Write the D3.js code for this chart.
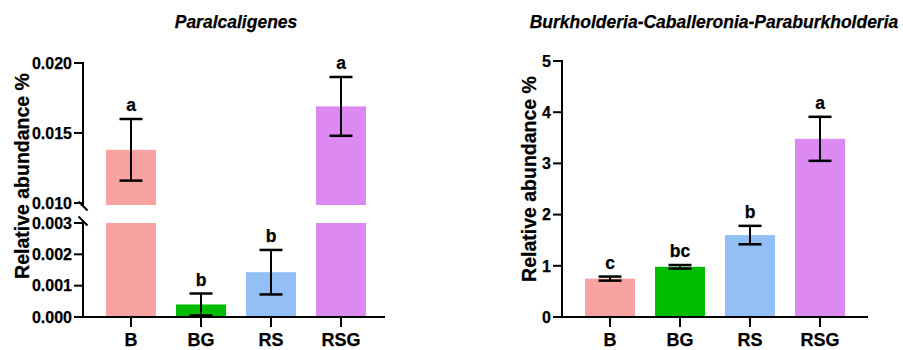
<!DOCTYPE html>
<html><head><meta charset="utf-8">
<script src="https://cdn.jsdelivr.net/npm/d3@7"></script>
<style>
html,body{margin:0;padding:0;background:#fff;}
text{font-family:"Liberation Sans",Arial,sans-serif;font-weight:bold;fill:#000;stroke:#000;stroke-width:0.25px;}
</style></head>
<body><svg id="c" width="903" height="350"></svg>
<script>
const categories = ["B", "BG", "RS", "RSG"];
const colors = ["#F8A2A2", "#00BD00", "#92C0F6", "#DC8AF2"];

const paraTitle = "Paralcaligenes";
const paraMean = [0.0138, 0.00040, 0.00143, 0.0169];
const paraErr = [0.0022, 0.00035, 0.00071, 0.0021];
const paraLetters = ["a", "b", "b", "a"];
const paraLowTicks = [0, 0.001, 0.002, 0.003];
const paraHighTicks = [0.010, 0.015, 0.020];

const burkTitle = "Burkholderia-Caballeronia-Paraburkholderia";
const burkMean = [0.75, 0.98, 1.60, 3.48];
const burkErr = [0.04, 0.035, 0.18, 0.43];
const burkLetters = ["c", "bc", "b", "a"];
const burkTicks = [0, 1, 2, 3, 4, 5];

const yLabel = "Relative abundance %";

const svg = d3.select("#c");
const SW = 2;

function xAxis(g, x, x0, x1, y0) {
  g.append("line").attr("x1", x0).attr("x2", x1).attr("y1", y0).attr("y2", y0)
    .attr("stroke", "#000").attr("stroke-width", SW);
  categories.forEach(c => {
    const cx = x(c) + x.bandwidth() / 2;
    g.append("line").attr("x1", cx).attr("x2", cx).attr("y1", y0).attr("y2", y0 + 10)
      .attr("stroke", "#000").attr("stroke-width", SW);
    g.append("text").attr("x", cx).attr("y", y0 + 28.5).attr("text-anchor", "middle")
      .attr("font-size", 18).text(c);
  });
}

function yTicks(g, scale, ticks, ax, fmt) {
  ticks.forEach(t => {
    g.append("line").attr("x1", ax - 9).attr("x2", ax).attr("y1", scale(t)).attr("y2", scale(t))
      .attr("stroke", "#000").attr("stroke-width", SW);
    g.append("text").attr("x", ax - 11).attr("y", scale(t)).attr("dy", "0.36em")
      .attr("text-anchor", "end").attr("font-size", 16).text(fmt(t));
  });
}

function errBar(g, cx, yTop, yBot) {
  const hw = 11.5;
  g.append("line").attr("x1", cx).attr("x2", cx).attr("y1", yTop).attr("y2", yBot)
    .attr("stroke", "#000").attr("stroke-width", SW);
  [yTop, yBot].forEach(yy => g.append("line").attr("x1", cx - hw).attr("x2", cx + hw)
    .attr("y1", yy).attr("y2", yy).attr("stroke", "#000").attr("stroke-width", SW + 0.5));
}

// ---------- Left chart (broken axis) ----------
{
  const g = svg.append("g");
  const ax = 83, base = 317;
  const x = d3.scaleBand().domain(categories).range([96, 376]).paddingInner(0.286).paddingOuter(0.143);
  const yLow = d3.scaleLinear().domain([0, 0.003]).range([base, 223]);
  const yHigh = d3.scaleLinear().domain([0.010, 0.020]).range([203, 63]);
  const brk = 0.003;
  const y = v => v <= brk ? yLow(v) : yHigh(v);

  categories.forEach((c, i) => {
    const v = paraMean[i];
    const bx = x(c), bw = x.bandwidth();
    if (v <= brk) {
      g.append("rect").attr("x", bx).attr("width", bw).attr("y", yLow(v)).attr("height", base - yLow(v)).attr("fill", colors[i]);
    } else {
      g.append("rect").attr("x", bx).attr("width", bw).attr("y", yLow(brk)).attr("height", base - yLow(brk)).attr("fill", colors[i]);
      const yb = yHigh(0.010) + 2;
      g.append("rect").attr("x", bx).attr("width", bw).attr("y", yHigh(v)).attr("height", yb - yHigh(v)).attr("fill", colors[i]);
    }
    const cx = bx + bw / 2;
    const top = v + paraErr[i], bot = Math.max(0, v - paraErr[i]);
    errBar(g, cx, y(top), y(bot));
    g.append("text").attr("x", cx).attr("y", y(top) - 8).attr("text-anchor", "middle")
      .attr("font-size", 17.5).text(paraLetters[i]);
  });

  g.append("line").attr("x1", ax).attr("x2", ax).attr("y1", base + 1).attr("y2", yLow(brk) - 2)
    .attr("stroke", "#000").attr("stroke-width", SW);
  g.append("line").attr("x1", ax).attr("x2", ax).attr("y1", yHigh(0.020) - 1).attr("y2", yHigh(0.010) + 3)
    .attr("stroke", "#000").attr("stroke-width", SW);
  [yHigh(0.010) + 3, yLow(brk) - 2].forEach(yy => {
    g.append("line").attr("x1", ax - 4.5).attr("x2", ax + 4.5).attr("y1", yy - 4.5).attr("y2", yy + 4.5)
      .attr("stroke", "#000").attr("stroke-width", SW);
  });
  yTicks(g, yLow, paraLowTicks, ax, d3.format(".3f"));
  yTicks(g, yHigh, paraHighTicks, ax, d3.format(".3f"));
  xAxis(g, x, ax - 1, 385, base);

  g.append("text").attr("x", 236).attr("y", 28).attr("text-anchor", "middle")
    .attr("font-size", 17.5).attr("font-style", "italic").text(paraTitle);
  g.append("text").attr("transform", "translate(29,176) rotate(-90)")
    .attr("text-anchor", "middle").attr("font-size", 19.5).text(yLabel);
}

// ---------- Right chart ----------
{
  const g = svg.append("g");
  const ax = 562, base = 317;
  const x = d3.scaleBand().domain(categories).range([575, 855]).paddingInner(0.286).paddingOuter(0.143);
  const y = d3.scaleLinear().domain([0, 5]).range([base, 61]);

  categories.forEach((c, i) => {
    const v = burkMean[i];
    const bx = x(c), bw = x.bandwidth();
    g.append("rect").attr("x", bx).attr("width", bw).attr("y", y(v)).attr("height", base - y(v)).attr("fill", colors[i]);
    const cx = bx + bw / 2;
    const top = v + burkErr[i], bot = v - burkErr[i];
    errBar(g, cx, y(top), y(bot));
    g.append("text").attr("x", cx).attr("y", y(top) - 8).attr("text-anchor", "middle")
      .attr("font-size", 17.5).text(burkLetters[i]);
  });

  g.append("line").attr("x1", ax).attr("x2", ax).attr("y1", base + 1).attr("y2", y(5) - 1)
    .attr("stroke", "#000").attr("stroke-width", SW);
  yTicks(g, y, burkTicks, ax, d3.format("d"));
  xAxis(g, x, ax - 1, 868, base);

  g.append("text").attr("x", 714).attr("y", 28).attr("text-anchor", "middle")
    .attr("font-size", 17.5).attr("font-style", "italic").text(burkTitle);
  g.append("text").attr("transform", "translate(536,179) rotate(-90)")
    .attr("text-anchor", "middle").attr("font-size", 19.5).text(yLabel);
}
</script></body></html>
